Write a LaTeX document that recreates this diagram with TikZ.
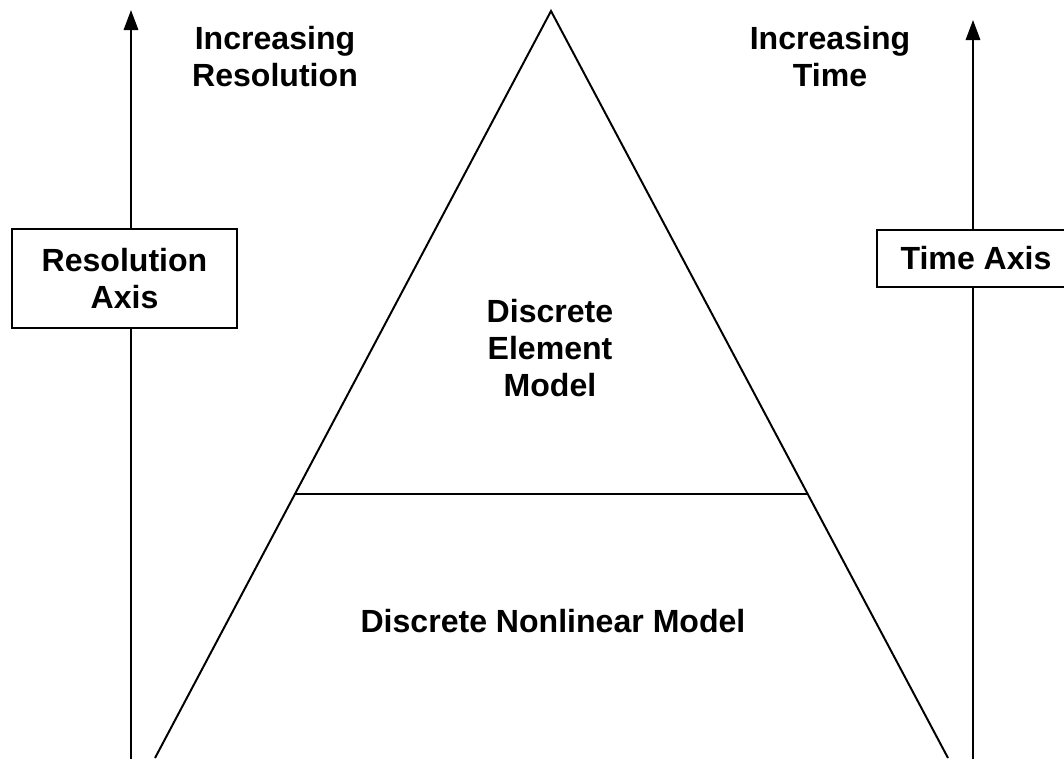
\documentclass[tikz,border=0pt]{standalone}
\usepackage{fontspec}
\setmainfont{Liberation Sans}
\usetikzlibrary{positioning,arrows.meta,calc}

\begin{document}
\begin{tikzpicture}[
		x=0.025cm, y=-0.025cm
		,every node/.append style={font=\fontsize{22.8}{26.3}\selectfont\bfseries, align=center}
		,axisbox/.style={draw, fill=white, line width=1.2pt, inner sep=0pt}
		,axisline/.style={line width=1.4pt, -{Triangle[length=0.5cm, width=0.36cm]}}
		,edge/.style={line width=1.4pt}
	]
		\useasboundingbox (0,0) rectangle (1064,758);
		% axes
		\coordinate (resBot) at (131,760);
		\coordinate (resTop) at (131,10);
		\coordinate (timeBot) at (973,760);
		\coordinate (timeTop) at (973,20);
		\draw [axisline] (resBot) -- (resTop);
		\draw [axisline] (timeBot) -- (timeTop);
		\node [axisbox, minimum width=5.625cm, minimum height=2.475cm] (resBox) at (124.5,278.5) {Resolution\\Axis};
		\node [axisbox, minimum width=4.95cm, minimum height=1.425cm] (timeBox) at (976,258.5) {Time Axis};
		\node (incRes) at (275,57) {Increasing\\Resolution};
		\node (incTime) at (830,57) {Increasing\\Time};
		% pyramid
		\coordinate (apex) at (551,11);
		\coordinate (baseL) at (155,758);
		\coordinate (baseR) at (948,758);
		\draw [edge] (baseL) -- (apex) -- (baseR);
		\coordinate (cutL) at ($(apex)!0.6466!(baseL)$);
		\coordinate (cutR) at ($(apex)!0.6466!(baseR)$);
		\draw [edge] (cutL) -- (cutR);
		\node (element) at (550,348) {Discrete\\Element\\Model};
		\node (nonlinear) at (553,621) {Discrete Nonlinear Model};
	\end{tikzpicture}
\end{document}
